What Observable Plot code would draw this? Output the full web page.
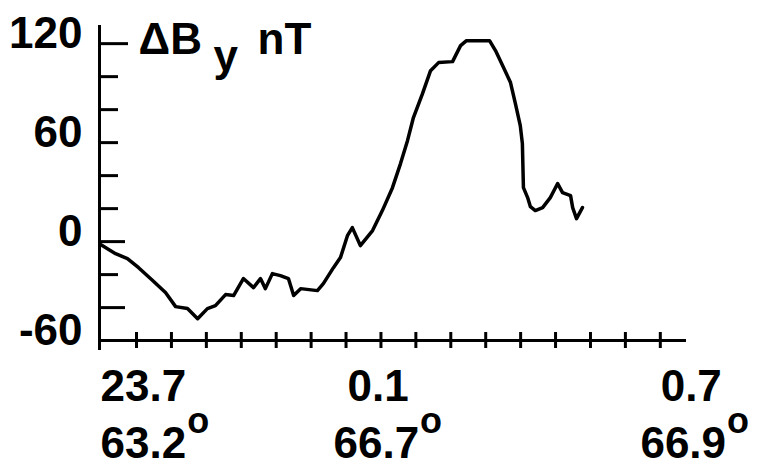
<!DOCTYPE html>
<html><head><meta charset="utf-8">
<script src="https://cdn.jsdelivr.net/npm/d3@7"></script>
<script src="https://cdn.jsdelivr.net/npm/@observablehq/plot@0.6"></script>
<style>html,body{margin:0;padding:0;background:#fff;overflow:hidden;}</style>
</head><body><div id="chart"></div>
<script>
// position along the track, in x-tick units (tick spacing)
const trackPos = [-0.03,0.40,0.74,1.06,1.43,1.83,2.12,2.46,2.75,3.03,3.26,3.55,3.78,4.06,4.35,4.55,4.69,4.89,5.12,5.35,5.50,5.70,6.18,6.35,6.64,6.84,7.04,7.18,7.41,7.76,8.04,8.33,8.56,8.76,8.93,9.19,9.42,9.65,10.05,10.28,10.45,11.11,11.28,11.51,11.71,11.85,11.99,12.05,12.08,12.20,12.28,12.42,12.63,12.85,13.06,13.20,13.43,13.49,13.60,13.77];
// ΔBy in nT
const dBy = [-1.8,-7.3,-10.3,-15.8,-23.0,-30.9,-39.4,-40.6,-46.7,-40.6,-38.8,-32.1,-32.7,-22.4,-27.9,-22.4,-28.5,-19.4,-20.6,-22.4,-32.7,-28.5,-29.7,-25.5,-15.8,-9.7,3.6,8.5,-2.4,6.7,18.8,32.7,47.3,61.2,75.2,89.7,103.6,108.5,109.1,118.8,121.8,121.8,115.8,105.5,96.4,83.6,70.3,59.4,32.7,26.7,21.2,18.8,20.6,26.7,35.2,29.7,27.9,20.6,13.9,20.6];

const yLabelTicks = [120, 60, 0, -60];
const yShortTicks = [100, 80, 60, 40, 20, -20];
const yLongTicks = [0, -40];
const yTopTick = [120];
const xTicks = d3.range(1, 17);

const timeLabels = ["23.7", "0.1", "0.7"];
const timeLabelPos = [-0.03, 7.04, 16.01];
const latLabels = ["63.2", "66.7", "66.9"];
const latLabelPos = [-0.03, 6.64, 15.43];

const titleParts = ["ΔB", "y", "nT"];

const data = trackPos.map((u, i) => ({u, v: dBy[i]}));
const ink = "#000";

const plot = Plot.plot({
  width: 768,
  height: 470,
  marginLeft: 99,
  marginRight: 82,
  marginTop: 25,
  marginBottom: 120,
  style: {fontFamily: "'Liberation Sans', Arial, sans-serif", fontSize: "44px", fontWeight: "700", color: ink, background: "#fff"},
  x: {domain: [-0.06, 16.75], label: null, axis: null},
  y: {domain: [-66, 131], label: null, axis: null},
  marks: [
    // axis lines
    Plot.ruleX([-0.06], {stroke: ink, strokeWidth: 3}),
    Plot.ruleY([-60], {stroke: ink, strokeWidth: 3}),
    // y ticks (drawn inward)
    Plot.axisY(yShortTicks, {anchor: "left", tickSize: 19, dx: 19, text: null, label: null, stroke: ink, strokeWidth: 3}),
    Plot.axisY(yLongTicks, {anchor: "left", tickSize: 26, dx: 26, text: null, label: null, stroke: ink, strokeWidth: 3}),
    Plot.axisY(yTopTick, {anchor: "left", tickSize: 29, dx: 29, text: null, label: null, stroke: ink, strokeWidth: 3}),
    Plot.axisY(yLabelTicks, {anchor: "left", tickSize: 0, tickPadding: 17, dy: -10, label: null, tickFormat: d => String(d), fill: ink, fontSize: 44, fontWeight: "bold"}),
    // x ticks crossing the axis line
    Plot.axisX(xTicks, {anchor: "bottom", tickSize: 16, dy: -18, text: null, label: null, stroke: ink, strokeWidth: 3}),
    // x labels
    Plot.text(timeLabels, {x: (d, i) => timeLabelPos[i], text: d => d, frameAnchor: "bottom", textAnchor: "start", lineAnchor: "bottom", dy: 50, fill: ink, fontSize: 44, fontWeight: "bold"}),
    Plot.text(latLabels, {x: (d, i) => latLabelPos[i], text: d => d, frameAnchor: "bottom", textAnchor: "start", lineAnchor: "bottom", dy: 107, fill: ink, fontSize: 44, fontWeight: "bold"}),
    // title
    Plot.text([titleParts[0]], {frameAnchor: "top-left", textAnchor: "start", lineAnchor: "bottom", dx: 39, dy: 28, fill: ink, fontSize: 44, fontWeight: "bold"}),
    Plot.text([titleParts[1]], {frameAnchor: "top-left", textAnchor: "start", lineAnchor: "bottom", dx: 114, dy: 45, fill: ink, fontSize: 44, fontWeight: "bold"}),
    Plot.text([titleParts[2]], {frameAnchor: "top-left", textAnchor: "start", lineAnchor: "bottom", dx: 158, dy: 28, fill: ink, fontSize: 44, fontWeight: "bold"}),
    // data line
    Plot.line(data, {x: "u", y: "v", stroke: ink, strokeWidth: 3.5, strokeLinejoin: "round"})
  ]
});

// superscript degree "o" after latitude labels
plot.querySelectorAll("text").forEach(t => {
  if (latLabels.includes(t.textContent)) {
    const ts = document.createElementNS("http://www.w3.org/2000/svg", "tspan");
    ts.setAttribute("dy", "-25");
    ts.setAttribute("dx", "1");
    ts.setAttribute("font-size", "36");
    ts.textContent = "o";
    t.appendChild(ts);
  }
});

document.getElementById("chart").appendChild(plot);
</script>
</body></html>
